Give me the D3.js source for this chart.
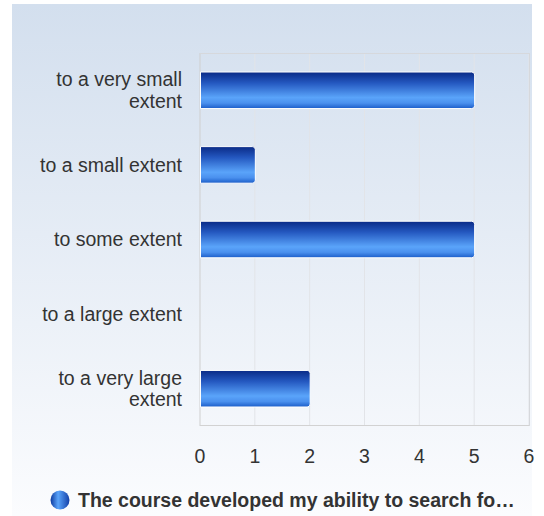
<!DOCTYPE html>
<html><head><meta charset="utf-8">
<script src="https://cdn.jsdelivr.net/npm/d3@7"></script>
<style>body{margin:0;background:#fff}svg{display:block}text{font-family:"Liberation Sans",Arial,sans-serif}</style>
</head><body>
<script>
const categories = [["to a very small","extent"],["to a small extent"],["to some extent"],["to a large extent"],["to a very large","extent"]];
const values = [5,1,5,0,2];
const tickValues = [0,1,2,3,4,5,6];
const seriesName = "The course developed my ability to search fo\u2026";

const W=544,H=516,FS=19.5;
const svg=d3.select("body").append("svg").attr("width",W).attr("height",H);
const defs=svg.append("defs");
const bg=defs.append("linearGradient").attr("id","bg").attr("x1",0).attr("y1",0).attr("x2",0).attr("y2",1);
bg.append("stop").attr("offset","0%").attr("stop-color","#d3dfee");
bg.append("stop").attr("offset","100%").attr("stop-color","#fbfcfe");
const bar=defs.append("linearGradient").attr("id","bar").attr("x1",0).attr("y1",0).attr("x2",0).attr("y2",1);
[["0%","#0a2a86"],["30%","#2458c0"],["70%","#5aa4fa"],["85%","#4a90ee"],["100%","#1a5cc8"]].forEach(s=>bar.append("stop").attr("offset",s[0]).attr("stop-color",s[1]));
const leg=defs.append("linearGradient").attr("id","leg").attr("x1",0).attr("y1",0).attr("x2",1).attr("y2",0);
[["0%","#0c3aa0"],["40%","#5aa4fa"],["100%","#1440a8"]].forEach(s=>leg.append("stop").attr("offset",s[0]).attr("stop-color",s[1]));

svg.append("rect").attr("x",12).attr("y",4).attr("width",520).attr("height",H-4).attr("fill","url(#bg)");

const x=d3.scaleLinear().domain([0,6]).range([200,529]);
const y=d3.scaleBand().domain(d3.range(categories.length)).range([53,426]).paddingInner(0.51).paddingOuter(0.255);

const g=svg.append("g");
g.selectAll("line.grid").data(tickValues).join("line")
 .attr("x1",d=>x(d)).attr("x2",d=>x(d)).attr("y1",53).attr("y2",426)
 .attr("stroke",d=>d===0?"#cfcfcf":"#e2e4e8").attr("stroke-width",1);
g.append("line").attr("x1",200).attr("x2",529).attr("y1",53.5).attr("y2",53.5).attr("stroke","#d6d8dc");
g.append("line").attr("x1",200).attr("x2",529).attr("y1",425.5).attr("y2",425.5).attr("stroke","#d2d2d2");
g.append("line").attr("x1",529.5).attr("x2",529.5).attr("y1",53).attr("y2",426).attr("stroke","#d6d8dc");

function barPath(x0,y0,w,h,r){
  r=Math.min(r,w);
  return `M${x0},${y0}H${x0+w-r}Q${x0+w},${y0} ${x0+w},${y0+r}V${y0+h-r}Q${x0+w},${y0+h} ${x0+w-r},${y0+h}H${x0}Z`;
}
g.selectAll("path.bar").data(values.map((v,i)=>({v,i})).filter(d=>d.v>0)).join("path")
 .attr("d",d=>barPath(x(0)+0.5,y(d.i),x(d.v)-x(0),y.bandwidth(),3))
 .attr("fill","url(#bar)").attr("stroke","#ffffff").attr("stroke-width",1);

// category labels
categories.forEach((lines,i)=>{
  const cy=y(i)+y.bandwidth()/2;
  const lh=21.5;
  const t=svg.append("text").attr("text-anchor","end").attr("font-size",FS).attr("fill","#333");
  lines.forEach((ln,j)=>{
    t.append("tspan").attr("x",182).attr("y",cy+(j-(lines.length-1)/2)*lh).attr("dy","0.35em").text(ln);
  });
});

// x axis tick labels
svg.selectAll("text.tick").data(tickValues).join("text")
 .attr("x",d=>x(d)).attr("y",456).attr("dy","0.35em").attr("text-anchor","middle")
 .attr("font-size",FS).attr("fill","#333").text(d=>d);

// legend
svg.append("circle").attr("cx",60).attr("cy",500).attr("r",9.5).attr("fill","url(#leg)");
svg.append("text").attr("x",78).attr("y",500).attr("dy","0.35em").attr("font-size",FS).attr("font-weight","bold").attr("fill","#333").text(seriesName);
</script>
</body></html>
